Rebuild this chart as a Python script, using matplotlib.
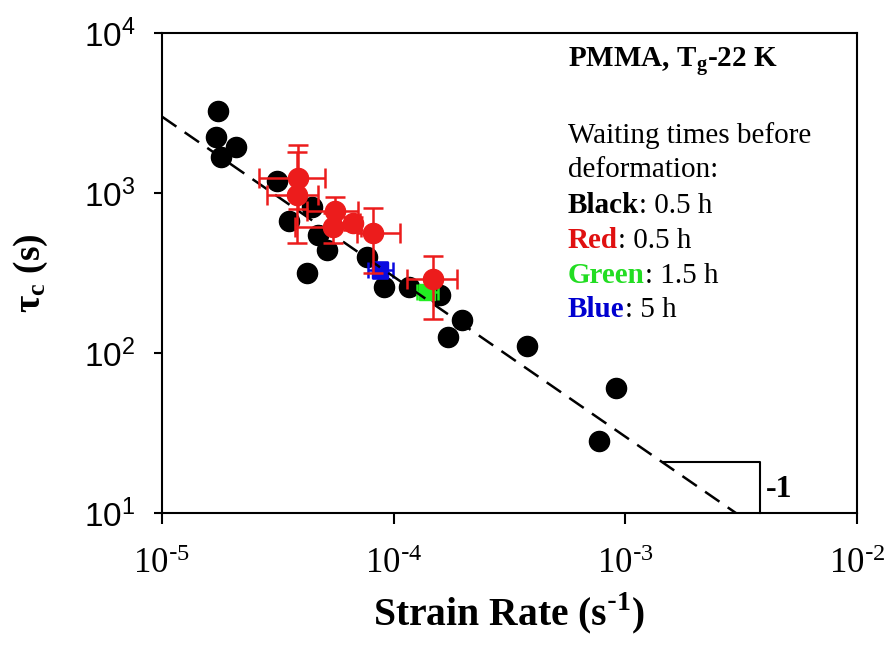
import numpy as np
import matplotlib
matplotlib.use('Agg')
import matplotlib.pyplot as plt

# ---- data ----
black_rate = [1.75e-5, 1.71e-5, 2.08e-5, 1.79e-5, 3.13e-5, 3.55e-5, 4.43e-5, 4.72e-5,
              5.14e-5, 4.22e-5, 7.65e-5, 9.09e-5, 1.16e-4, 1.59e-4, 1.97e-4, 1.71e-4,
              3.76e-4, 9.12e-4, 7.73e-4]
black_tau = [3270, 2250, 1930, 1690, 1190, 670, 820, 546, 440, 318, 400, 257, 257,
             230, 161, 126, 111, 60.4, 28.2]

red_rate = [3.87e-5, 3.83e-5, 5.58e-5, 5.49e-5, 6.70e-5, 8.17e-5, 1.48e-4]
red_tau = [1240, 970, 772, 616, 647, 560, 289]
red_rate_lo = [2.62e-5, 2.84e-5, 4.21e-5, 3.75e-5, 5.87e-5, 6.93e-5, 1.14e-4]
red_rate_hi = [5.06e-5, 4.72e-5, 7.02e-5, 7.23e-5, 7.16e-5, 1.066e-4, 1.87e-4]
red_tau_lo = [800, 487, 600, 485, 590, 318, 163]
red_tau_hi = [1995, 1800, 944, 747, 710, 802, 406]

green_rate = [1.39e-4]
green_tau = [242]
green_rate_lo = [1.258e-4]
green_rate_hi = [1.56e-4]
green_tau_lo = [222]
green_tau_hi = [262]

blue_rate = [8.73e-5]
blue_tau = [330]
blue_rate_lo = [7.75e-5]
blue_rate_hi = [9.94e-5]
blue_tau_lo = [294]
blue_tau_hi = [371]

fit_const = 0.03          # tau = fit_const / rate  (slope -1)
tri_rate = [1.45e-3, 3.8e-3]

x_ticks = [1e-5, 1e-4, 1e-3, 1e-2]
x_tick_labels = [r'$\mathregular{10^{\text{-}5}}$', r'$\mathregular{10^{\text{-}4}}$',
                 r'$\mathregular{10^{\text{-}3}}$', r'$\mathregular{10^{\text{-}2}}$']
y_ticks = [1e1, 1e2, 1e3, 1e4]
y_tick_labels = [r'$\mathregular{10^{1}}$', r'$\mathregular{10^{2}}$',
                 r'$\mathregular{10^{3}}$', r'$\mathregular{10^{4}}$']

RED = '#ec1c1c'
GREEN = '#22ee22'
BLUE = '#0a0ae0'
SERIF = 'Liberation Serif'

fig = plt.figure(figsize=(8.91, 6.53), dpi=100)
ax = fig.add_axes([162/891, 1-513/653, (857-162)/891, (513-33)/653])
ax.set_xscale('log')
ax.set_yscale('log')
ax.set_xlim(1e-5, 1e-2)
ax.set_ylim(10, 1e4)


def errs(v, lo, hi):
    v = np.asarray(v); lo = np.asarray(lo); hi = np.asarray(hi)
    return np.vstack([v - lo, hi - v])


ax.plot(black_rate, black_tau, 'o', color='black', ms=14.5, zorder=2, clip_on=False)

line_rate = np.logspace(-5, np.log10(fit_const / 10), 50)
ax.plot(line_rate, fit_const / line_rate, color='black', lw=1.8,
        dashes=(7, 4), zorder=3)

ax.errorbar(blue_rate, blue_tau, xerr=errs(blue_rate, blue_rate_lo, blue_rate_hi),
            yerr=errs(blue_tau, blue_tau_lo, blue_tau_hi), fmt='s', color=BLUE,
            ms=12, elinewidth=1.8, capsize=6, capthick=1.8, zorder=2.5)
ax.errorbar(green_rate, green_tau, xerr=errs(green_rate, green_rate_lo, green_rate_hi),
            yerr=errs(green_tau, green_tau_lo, green_tau_hi), fmt='s', color=GREEN,
            ms=12, elinewidth=1.8, capsize=6, capthick=1.8, zorder=2.5)
ax.errorbar(red_rate, red_tau, xerr=errs(red_rate, red_rate_lo, red_rate_hi),
            yerr=errs(red_tau, red_tau_lo, red_tau_hi), fmt='o', color=RED,
            ms=14.5, elinewidth=1.8, capsize=7, capthick=1.8, zorder=4)

# slope triangle
tri_top = fit_const / tri_rate[0]
ax.plot([tri_rate[0], tri_rate[1], tri_rate[1]], [tri_top, tri_top, 10],
        color='black', lw=1.5, zorder=3, clip_on=False)
ax.text(tri_rate[1] * 1.06, 14.0, '-1', fontsize=23, fontweight='bold',
        family=SERIF, va='center', ha='left')

# axes styling
for s in ax.spines.values():
    s.set_linewidth(1.5)
ax.xaxis.set_minor_locator(matplotlib.ticker.NullLocator())
ax.yaxis.set_minor_locator(matplotlib.ticker.NullLocator())
ax.set_xticks(x_ticks)
ax.set_xticklabels(x_tick_labels, family=SERIF, fontsize=25)
ax.set_yticks(y_ticks)
ax.set_yticklabels(y_tick_labels, family='Liberation Sans', fontsize=24)
ax.tick_params(axis='x', direction='out', length=8, width=1.5, pad=17)
ax.tick_params(axis='y', direction='out', length=6, width=1.5, pad=13)
ax.tick_params(top=False, right=False)

ax.set_xlabel(r'Strain Rate (s$^{\mathregular{\text{-}1}}$)', family=SERIF,
              fontweight='bold', fontsize=28.5)
ax.xaxis.set_label_coords(0.5, (513 - 590) / 480)
ax.set_ylabel(r'$\mathregular{τ_c}$ (s)', family=SERIF,
              fontweight='bold', fontsize=27)
ax.yaxis.set_label_coords((50 - 162) / 695, 0.5)

# annotation block
tx = 0.584
ax.text(tx, 0.929, r'PMMA, T$_{\mathregular{g}}$-22 K', transform=ax.transAxes,
        family=SERIF, fontweight='bold', fontsize=21, va='baseline')
ax.text(tx, 0.771, 'Waiting times before', transform=ax.transAxes,
        family=SERIF, fontsize=21, va='baseline')
ax.text(tx, 0.700, 'deformation:', transform=ax.transAxes,
        family=SERIF, fontsize=21, va='baseline')

legend_lines = [('Black', 'black', ': 0.5 h', 0.625),
                ('Red', '#e01010', ': 0.5 h', 0.552),
                ('Green', '#22dd22', ': 1.5 h', 0.479),
                ('Blue', '#0000d0', ': 5 h', 0.408)]
for word, col, rest, yy in legend_lines:
    t = ax.text(tx, yy, word, transform=ax.transAxes, family=SERIF,
                fontweight='bold', fontsize=21, color=col, va='baseline')
    ax.annotate(rest, xy=(1, 0), xycoords=t, family=SERIF,
                fontsize=21, color='black', va='bottom', ha='left')

fig.savefig('out.png', dpi=100)
